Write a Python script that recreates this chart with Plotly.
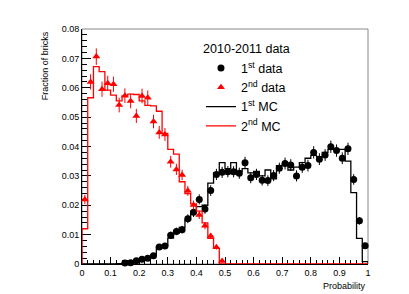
import plotly.graph_objects as go

# ---- data (50 bins of width 0.02 on [0,1]) ----
bin_edges = [round(i * 0.02, 2) for i in range(51)]
bin_centers = [round(0.01 + i * 0.02, 2) for i in range(50)]

first_data = [None, None, None, None, None, None, None, 0.0003, 0.0004, 0.0011,
              0.0016, 0.0020, 0.0028, 0.0058, 0.0061, 0.0098, 0.0111, 0.0117, 0.0154, 0.0176,
              0.0220, 0.0187, 0.0250, 0.0305, 0.0312, 0.0314, 0.0314, 0.0309, 0.0345, 0.0294,
              0.0305, 0.0285, 0.0284, 0.0301, 0.0326, 0.0342, 0.0337, 0.0300, 0.0329, 0.0335,
              0.0380, 0.0357, 0.0371, 0.0399, 0.0386, 0.0360, 0.0392, 0.0288, 0.0147, 0.0062]
first_err = [0, 0, 0, 0, 0, 0, 0, 0.0003, 0.0003, 0.0005,
             0.0006, 0.0006, 0.0007, 0.0010, 0.0010, 0.0012, 0.0013, 0.0013, 0.0015, 0.0016,
             0.0017, 0.0016, 0.0018, 0.0019, 0.0019, 0.0019, 0.0019, 0.0019, 0.0020, 0.0019,
             0.0019, 0.0018, 0.0018, 0.0019, 0.0019, 0.0020, 0.0020, 0.0019, 0.0019, 0.0020,
             0.0021, 0.0020, 0.0020, 0.0021, 0.0021, 0.0020, 0.0021, 0.0018, 0.0013, 0.0009]

second_data = [0.0220, 0.0620, 0.0706, 0.0595, 0.0615, 0.0612, 0.0541, 0.0573, 0.0555, 0.0504,
               0.0572, 0.0566, 0.0485, 0.0448, 0.0441, 0.0348, 0.0322, 0.0303, 0.0249, 0.0201,
               0.0167, 0.0130, 0.0095, 0.0057, 0.0010, None, None, None, None, None,
               None, None, None, None, None, None, None, None, None, None,
               None, None, None, None, None, None, None, None, None, None]
second_err = [0.0016, 0.0026, 0.0028, 0.0026, 0.0026, 0.0026, 0.0025, 0.0025, 0.0025, 0.0024,
              0.0025, 0.0025, 0.0023, 0.0022, 0.0022, 0.0020, 0.0019, 0.0018, 0.0017, 0.0015,
              0.0014, 0.0012, 0.0010, 0.0008, 0.0004, 0, 0, 0, 0, 0,
              0, 0, 0, 0, 0, 0, 0, 0, 0, 0,
              0, 0, 0, 0, 0, 0, 0, 0, 0, 0]

first_mc = [0, 0, 0, 0, 0, 0, 0.0001, 0.0003, 0.0006, 0.0010,
            0.0016, 0.0022, 0.0030, 0.0057, 0.0062, 0.0088, 0.0105, 0.0125, 0.0150, 0.0180,
            0.0195, 0.0200, 0.0275, 0.0310, 0.0345, 0.0325, 0.0345, 0.0315, 0.0325, 0.0310,
            0.0315, 0.0300, 0.0320, 0.0290, 0.0335, 0.0340, 0.0320, 0.0330, 0.0345, 0.0360,
            0.0370, 0.0365, 0.0380, 0.0390, 0.0390, 0.0390, 0.0350, 0.0243, 0.0087, 0.0008]

second_mc = [0.0120, 0.0566, 0.0672, 0.0655, 0.0592, 0.0575, 0.0555, 0.0572, 0.0578, 0.0577,
             0.0555, 0.0540, 0.0538, 0.0520, 0.0445, 0.0390, 0.0374, 0.0280, 0.0240, 0.0205,
             0.0180, 0.0140, 0.0087, 0.0053, 0, 0, 0, 0, 0, 0,
             0, 0, 0, 0, 0, 0, 0, 0, 0, 0,
             0, 0, 0, 0, 0, 0, 0, 0, 0, 0]

legend_title = "2010-2011 data"
names = ["1<sup>st</sup> data", "2<sup>nd</sup> data", "1<sup>st</sup> MC", "2<sup>nd</sup> MC"]


def step_xy(vals):
    xs = [bin_edges[0]] + bin_edges[:-1] + [bin_edges[-1], bin_edges[-1]]
    ys = [0] + list(vals) + [vals[-1], 0]
    return xs, ys


FONT = "Liberation Sans, Arial, Helvetica, sans-serif"
fig = go.Figure()

x1, y1 = step_xy(first_mc)
x2, y2 = step_xy(second_mc)

fig.add_trace(go.Scatter(x=bin_centers, y=first_data, mode="markers", name=names[0],
                         marker=dict(symbol="circle", size=7, color="black"),
                         error_y=dict(type="data", array=first_err, width=0, thickness=1, color="black"),
                         cliponaxis=False))
fig.add_trace(go.Scatter(x=bin_centers, y=second_data, mode="markers", name=names[1],
                         marker=dict(symbol="triangle-up", size=7, color="red"),
                         error_y=dict(type="data", array=second_err, width=0, thickness=1, color="red"),
                         cliponaxis=False))
fig.add_trace(go.Scatter(x=x1, y=y1, mode="lines", name=names[2], line_shape="hv",
                         line=dict(color="black", width=1.3), cliponaxis=False))
fig.add_trace(go.Scatter(x=x2, y=y2, mode="lines", name=names[3], line_shape="hv",
                         line=dict(color="red", width=1.3), cliponaxis=False))

fig.update_layout(
    width=409, height=294,
    margin=dict(l=82, r=41, t=29, b=30),
    paper_bgcolor="white", plot_bgcolor="white",
    font=dict(family=FONT, size=9, color="black"),
    showlegend=True,
    legend=dict(x=0.416, y=0.965, xanchor="left", yanchor="top",
                bgcolor="rgba(0,0,0,0)", font=dict(size=12.5, family=FONT),
                title=dict(text=legend_title, side="top center", font=dict(size=12.5, family=FONT)),
                itemwidth=30),
    shapes=[dict(type="rect", xref="paper", yref="paper", x0=0, y0=0, x1=1, y1=1,
                 line=dict(color="#888888", width=1), layer="below")],
    annotations=[
        dict(text="Fraction of bricks", xref="paper", yref="paper", x=-0.13, y=1.0,
             xanchor="center", yanchor="top", textangle=-90, showarrow=False,
             font=dict(size=9, family=FONT)),
        dict(text="Probability", xref="paper", yref="paper", x=1.0, y=-0.065,
             xanchor="right", yanchor="top", showarrow=False,
             font=dict(size=9, family=FONT)),
    ],
)
fig.update_xaxes(range=[0, 1], dtick=0.1, tick0=0, ticks="inside", ticklen=7, tickwidth=1,
                 tickcolor="black", showline=True, linecolor="black", linewidth=1,
                 showgrid=False, zeroline=False, layer="below traces",
                 minor=dict(ticks="inside", ticklen=4, dtick=0.02, tick0=0, tickcolor="black", showgrid=False),
                 tickfont=dict(size=9, family=FONT))
fig.update_yaxes(range=[0, 0.08], dtick=0.01, tick0=0, ticks="inside", ticklen=9, tickwidth=1,
                 tickcolor="black", showline=True, linecolor="black", linewidth=1,
                 showgrid=False, zeroline=False, layer="below traces",
                 minor=dict(ticks="inside", ticklen=5, dtick=0.002, tick0=0, tickcolor="black", showgrid=False),
                 tickfont=dict(size=9, family=FONT))

fig.write_html("out.html", config={"displayModeBar": False},
               post_script="document.body.style.margin='0px';")
